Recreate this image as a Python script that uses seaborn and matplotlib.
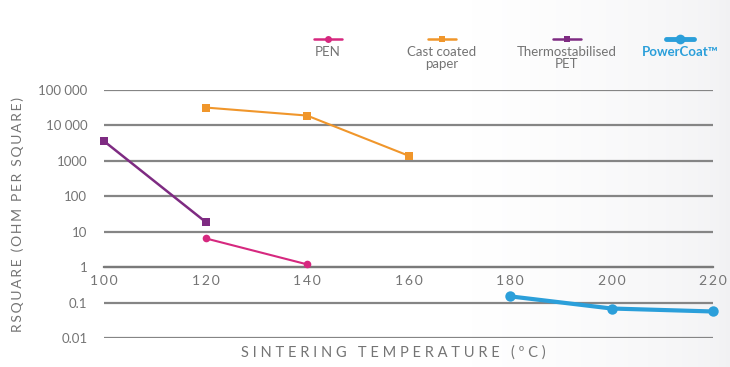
import numpy as np
import pandas as pd
import seaborn as sns
import matplotlib.pyplot as plt
from matplotlib.lines import Line2D
from matplotlib.colors import LinearSegmentedColormap

# data
pen_temp = [120, 140]
pen_r = [6.5, 1.2]

paper_temp = [120, 140, 160]
paper_r = [32000, 19000, 1400]

pet_temp = [100, 120]
pet_r = [3600, 19]

pc_temp = [180, 200, 220]
pc_r = [0.15, 0.068, 0.056]

series_names = ["PEN", "Cast coated\npaper", "Thermostabilised\nPET", "PowerCoat™"]
series_colors = ["#d6287f", "#f0962b", "#7e2b82", "#2b9fda"]
series_markers = ["o", "s", "s", "o"]

x_ticks = [100, 120, 140, 160, 180, 200, 220]
y_ticks = [0.01, 0.1, 1, 10, 100, 1000, 10000, 100000]
y_tick_labels = ["0.01", "0.1", "1", "10", "100", "1000", "10 000", "100 000"]

sns.set_style("white")
plt.rcParams['font.family'] = ['Lato', 'DejaVu Sans']

grey = "#747474"


def spaced(s, sep="\u2009"):
    return sep.join(s)


fig = plt.figure(figsize=(7.3, 3.67), dpi=100)

# background: white fading to light grey on the right
bg = fig.add_axes([0, 0, 1, 1], zorder=-5)
cols = np.ones(730)
start = 470
cols[start:] = np.linspace(1.0, 0.0, 730 - start) ** 0.6
cmap = LinearSegmentedColormap.from_list("bg", ["#f1f1f3", "#ffffff"])
bg.imshow(cols[np.newaxis, :], aspect="auto", cmap=cmap, vmin=0, vmax=1,
          extent=[0, 1, 0, 1])
bg.set_axis_off()

ax = fig.add_axes([104 / 730, 1 - 338 / 367, (713 - 104) / 730, (338 - 90) / 367])
ax.set_facecolor("none")

datasets = [(pen_temp, pen_r), (paper_temp, paper_r), (pet_temp, pet_r), (pc_temp, pc_r)]
widths = [1.5, 1.5, 1.8, 3.0]
msizes = [5.5, 5.5, 5.5, 7.5]
for (xs, ys), col, mk, lw, ms in zip(datasets, series_colors, series_markers, widths, msizes):
    df = pd.DataFrame({"temp": xs, "r": ys})
    sns.lineplot(data=df, x="temp", y="r", ax=ax, color=col, marker=mk,
                 markersize=ms, markeredgewidth=0, linewidth=lw, zorder=5,
                 clip_on=False)

ax.set_yscale("log")
ax.set_ylim(0.01, 100000)
ax.set_xlim(100, 220)

ax.set_yticks(y_ticks)
ax.set_yticklabels(y_tick_labels)
ax.minorticks_off()
ax.yaxis.grid(True, color="#858585", linewidth=1.6)
ax.xaxis.grid(False)
ax.tick_params(axis="y", length=0, pad=12, labelsize=9.5, labelcolor=grey)

ax.set_xticks(x_ticks)
ax.set_xticklabels([spaced(str(t)) for t in x_ticks])
ax.tick_params(axis="x", direction="in", length=6, width=1.5, color="#666666",
               pad=6, labelsize=10, labelcolor=grey)

for s in ["top", "right", "left"]:
    ax.spines[s].set_visible(False)
ax.spines["bottom"].set_position(("data", 1))
ax.spines["bottom"].set_color("#7a7a7a")
ax.spines["bottom"].set_linewidth(1.6)

ax.set_xlabel("")
ax.set_ylabel("")

fig.text(393 / 730, 1 - 353 / 367, spaced("SINTERING TEMPERATURE (ºC)", "\u2009\u2009"),
         ha="center", va="center", fontsize=10.5, color=grey)
fig.text(18 / 730, 1 - 215 / 367, spaced("RSQUARE (OHM PER SQUARE)"),
         ha="center", va="center", rotation=90, fontsize=10, color=grey)

# legend: marker above label
leg_x = [328, 442, 567, 680]
leg_w = [1.8, 1.8, 1.8, 3.5]
for name, col, mk, lw, ms, lx in zip(series_names, series_colors, series_markers,
                                      leg_w, msizes, leg_x):
    fx = lx / 730
    fy = 1 - 39 / 367
    fig.add_artist(Line2D([fx - 14 / 730, fx + 14 / 730], [fy, fy], color=col,
                          linewidth=lw, marker=None, transform=fig.transFigure))
    fig.add_artist(Line2D([fx], [fy], color=col, marker=mk, markersize=ms - 0.5,
                          markeredgewidth=0, transform=fig.transFigure))
    is_pc = name.startswith("PowerCoat")
    fig.text(fx, 1 - 46 / 367, name, ha="center", va="top", fontsize=9.5,
             color=col if is_pc else grey,
             fontweight="bold" if is_pc else "normal", linespacing=1.0)

fig.savefig("out.png", dpi=100)
